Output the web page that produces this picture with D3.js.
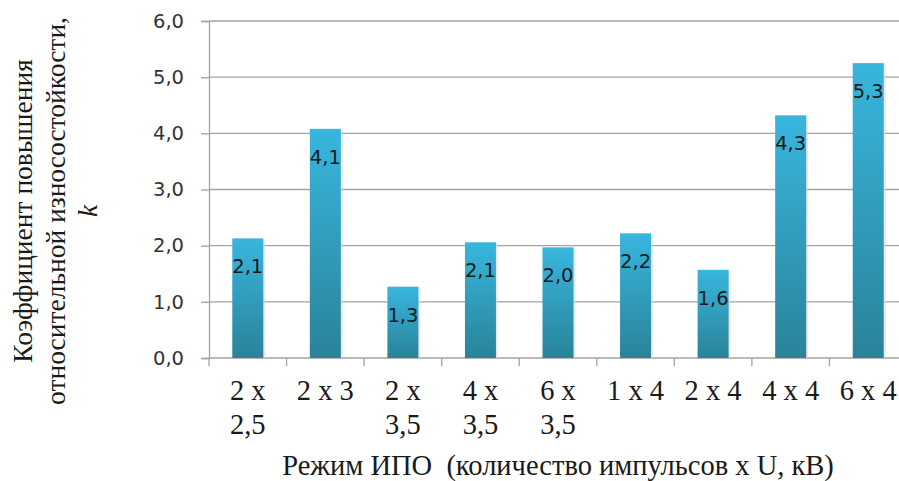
<!DOCTYPE html>
<html>
<head>
<meta charset="utf-8">
<script src="https://cdn.jsdelivr.net/npm/d3@7"></script>
<style>
  body { margin: 0; background: #fff; }
  svg { display: block; }
</style>
</head>
<body>
<div id="chart"></div>
<script>
var svgWidth = 899;
var svgHeight = 481;

// categories (each one split into label lines) and values
var categories = ["2 x 2,5", "2 x 3", "2 x 3,5", "4 x 3,5", "6 x 3,5", "1 x 4", "2 x 4", "4 x 4", "6 x 4"];
var categoryLines = [["2 x", "2,5"], ["2 x 3"], ["2 x", "3,5"], ["4 x", "3,5"], ["6 x", "3,5"], ["1 x 4"], ["2 x 4"], ["4 x 4"], ["6 x 4"]];
var values = [2.13, 4.08, 1.27, 2.06, 1.97, 2.22, 1.57, 4.32, 5.25];
var yTicks = [0, 1, 2, 3, 4, 5, 6];

var margin = { top: 21, right: -8, bottom: 123, left: 209 };
var width = svgWidth - margin.left - margin.right;
var height = svgHeight - margin.top - margin.bottom;

var svg = d3.select("#chart")
  .append("svg")
  .attr("width", svgWidth)
  .attr("height", svgHeight);

var defs = svg.append("defs");
var grad = defs.append("linearGradient")
  .attr("id", "barGrad")
  .attr("x1", 0).attr("y1", 0)
  .attr("x2", 0).attr("y2", 1);
grad.append("stop").attr("offset", "0%").attr("stop-color", "#38b6de");
grad.append("stop").attr("offset", "100%").attr("stop-color", "#2a8399");

var chartGroup = svg.append("g")
  .attr("transform", `translate(${margin.left}, ${margin.top})`);

var fmt = function(v) { return v.toFixed(1).replace(".", ","); };

var xScale = d3.scaleBand()
  .domain(categories)
  .range([0, width]);

var yScale = d3.scaleLinear()
  .domain([0, 6])
  .range([height, 0]);

// gridlines
chartGroup.append("g")
  .selectAll("line")
  .data(yTicks.slice(1))
  .enter()
  .append("line")
  .attr("x1", 0)
  .attr("x2", width)
  .attr("y1", d => yScale(d))
  .attr("y2", d => yScale(d))
  .attr("stroke", "#a3a3a3")
  .attr("stroke-width", 1.3);

// y axis
var leftAxis = d3.axisLeft(yScale)
  .tickValues(yTicks)
  .tickFormat(fmt)
  .tickSize(8)
  .tickPadding(17);

var yAxis = chartGroup.append("g").call(leftAxis);
yAxis.select(".domain").attr("stroke", "#a3a3a3").attr("stroke-width", 1.3);
yAxis.selectAll(".tick line").attr("stroke", "#a3a3a3").attr("stroke-width", 1.3);
yAxis.selectAll(".tick text")
  .attr("font-family", "DejaVu Sans, Verdana, sans-serif")
  .attr("font-size", 19.5)
  .attr("fill", "#333");

// x axis with ticks between categories
var xAxis = chartGroup.append("g")
  .attr("transform", `translate(0, ${height})`);
xAxis.append("line")
  .attr("x1", 0).attr("x2", width)
  .attr("stroke", "#a3a3a3").attr("stroke-width", 1.3);
xAxis.selectAll(".sep")
  .data(categories)
  .enter()
  .append("line")
  .attr("class", "sep")
  .attr("x1", d => xScale(d))
  .attr("x2", d => xScale(d))
  .attr("y1", 0)
  .attr("y2", 8)
  .attr("stroke", "#a3a3a3")
  .attr("stroke-width", 1.3);

var catLabels = xAxis.selectAll(".cat")
  .data(categories)
  .enter()
  .append("text")
  .attr("class", "cat")
  .attr("x", d => xScale(d) + xScale.bandwidth() / 2)
  .attr("y", 42)
  .attr("text-anchor", "middle")
  .attr("font-family", "Liberation Serif, Times New Roman, serif")
  .attr("font-size", 28.5)
  .attr("fill", "#1a1a1a");

catLabels.each(function(d, i) {
  var t = d3.select(this);
  categoryLines[i].forEach(function(line, j) {
    t.append("tspan")
      .attr("x", xScale(d) + xScale.bandwidth() / 2)
      .attr("dy", j === 0 ? 0 : 34)
      .text(line);
  });
});

// bars
var barWidth = 31;
var bars = chartGroup.append("g")
  .selectAll("rect")
  .data(values)
  .enter();

bars.append("rect")
  .attr("x", (d, i) => xScale(categories[i]) + xScale.bandwidth() / 2 - barWidth / 2 + 2)
  .attr("y", d => yScale(d) + 1)
  .attr("width", barWidth)
  .attr("height", d => height - yScale(d) - 1)
  .attr("fill", "#d8d8d8")
  .attr("opacity", 0.6);

bars.append("rect")
  .attr("x", (d, i) => xScale(categories[i]) + xScale.bandwidth() / 2 - barWidth / 2)
  .attr("y", d => yScale(d))
  .attr("width", barWidth)
  .attr("height", d => height - yScale(d))
  .attr("fill", "url(#barGrad)");

// data labels
chartGroup.append("g")
  .selectAll("text")
  .data(values)
  .enter()
  .append("text")
  .attr("x", (d, i) => xScale(categories[i]) + xScale.bandwidth() / 2)
  .attr("y", d => yScale(d) + 35)
  .attr("text-anchor", "middle")
  .attr("font-family", "DejaVu Sans, Verdana, sans-serif")
  .attr("font-size", 19.5)
  .attr("fill", "#1a1a1a")
  .text(fmt);

// axis titles
svg.append("text")
  .attr("x", 558)
  .attr("y", 475)
  .attr("text-anchor", "middle")
  .attr("font-family", "Liberation Serif, Times New Roman, serif")
  .attr("font-size", 28.5)
  .attr("fill", "#1a1a1a")
  .attr("xml:space", "preserve")
  .text("Режим ИПО  (количество импульсов x U, кВ)");

var yTitle = svg.append("text")
  .attr("transform", "translate(0, 211) rotate(-90)")
  .attr("text-anchor", "middle")
  .attr("font-family", "Liberation Serif, Times New Roman, serif")
  .attr("font-size", 27.5)
  .attr("fill", "#1a1a1a");
yTitle.append("tspan").attr("x", 0).attr("y", 32).text("Коэффициент повышения");
yTitle.append("tspan").attr("x", 0).attr("y", 65).text("относительной износостойкости,");
yTitle.append("tspan").attr("x", 0).attr("y", 97).attr("font-style", "italic").text("k");
</script>
</body>
</html>
